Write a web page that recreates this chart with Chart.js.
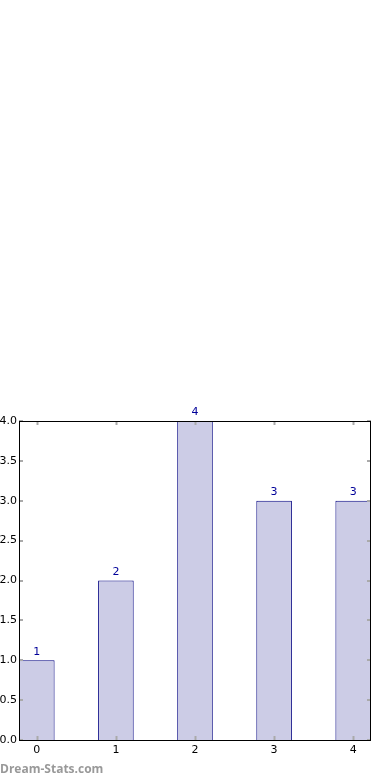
<!DOCTYPE html>
<html>
<head>
<meta charset="utf-8">
<script src="https://cdn.jsdelivr.net/npm/chart.js@4"></script>
<style>
  html, body { margin: 0; padding: 0; background: #fff; }
  #wrap { position: relative; width: 390px; height: 780px; }
  #mark { position: absolute; left: 0; top: 761px; font: bold 12px "Open Sans", sans-serif; color: #999; line-height: 16px; }
</style>
</head>
<body>
<div id="wrap">
  <canvas id="myChart"></canvas>
  <div id="mark">Dream-Stats.com</div>
</div>
<script>
const categories = [0, 1, 2, 3, 4];
const counts = [1, 2, 4, 3, 3];
const yTicks = [0, 0.5, 1, 1.5, 2, 2.5, 3, 3.5, 4];

const ctx = document.getElementById('myChart').getContext('2d');

// frame, inward ticks and value labels like matplotlib
const decor = {
    id: 'decor',
    afterDatasetsDraw(chart) {
        let c = chart.ctx;
        let a = chart.chartArea;
        let xs = chart.scales.x;
        let ys = chart.scales.y;
        c.save();
        c.strokeStyle = '#aaa';
        c.lineWidth = 2;
        c.beginPath();
        categories.forEach(v => {
            let px = Math.round(xs.getPixelForValue(v)) + 0.5;
            c.moveTo(px, a.bottom); c.lineTo(px, a.bottom - 4);
            c.moveTo(px, a.top); c.lineTo(px, a.top + 4);
        });
        yTicks.forEach(v => {
            let py = Math.round(ys.getPixelForValue(v));
            c.moveTo(a.left, py); c.lineTo(a.left + 4, py);
            c.moveTo(a.right, py); c.lineTo(a.right - 4, py);
        });
        c.stroke();

        c.strokeStyle = '#000';
        c.lineWidth = 1;
        c.strokeRect(Math.round(a.left) + 0.5, Math.round(a.top) + 0.5,
            Math.round(a.right - a.left) - 1, Math.round(a.bottom - a.top));

        c.fillStyle = '#000099';
        c.font = '11px "DejaVu Sans"';
        c.textAlign = 'center';
        c.textBaseline = 'bottom';
        chart.getDatasetMeta(0).data.forEach((bar, i) => {
            c.fillText(String(counts[i]), bar.x, bar.y - 3);
        });
        c.restore();
    }
};

let myChart = new Chart(ctx, {
    type: 'bar',
    data: {
        datasets: [{
            data: categories.map((x, i) => ({ x: x, y: counts[i] })),
            backgroundColor: '#ccccE6',
            borderColor: '#000080',
            borderWidth: 1,
            borderSkipped: 'bottom',
            categoryPercentage: 1,
            barPercentage: 0.45
        }]
    },
    options: {
        responsive: true,
        maintainAspectRatio: false,
        animation: false,
        layout: { padding: { top: 421, right: 19, left: 0, bottom: 0 } },
        plugins: { legend: { display: false }, tooltip: { enabled: false } },
        scales: {
            x: {
                type: 'linear',
                offset: false,
                min: -0.225,
                max: 4.225,
                afterBuildTicks: s => { s.ticks = categories.map(v => ({ value: v })); },
                afterFit: s => { s.height = 40; },
                grid: { display: false, drawTicks: false, offset: false },
                border: { display: false },
                ticks: { color: '#000', font: { family: 'DejaVu Sans', size: 11 }, padding: 4, maxRotation: 0 }
            },
            y: {
                min: 0,
                max: 4,
                afterBuildTicks: s => { s.ticks = yTicks.map(v => ({ value: v })); },
                afterFit: s => { s.width = 19; },
                grid: { display: false, drawTicks: false },
                border: { display: false },
                ticks: {
                    color: '#000',
                    font: { family: 'DejaVu Sans', size: 11 },
                    padding: 2,
                    callback: v => v.toFixed(1)
                }
            }
        }
    },
    plugins: [decor]
});
</script>
</body>
</html>
